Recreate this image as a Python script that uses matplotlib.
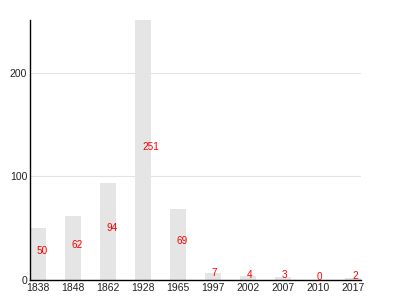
import matplotlib
matplotlib.use("Agg")
import matplotlib.pyplot as plt

categories = ["1838", "1848", "1862", "1928", "1965", "1997", "2002", "2007", "2010", "2017"]
values = [50, 62, 94, 251, 69, 7, 4, 3, 0, 2]
yticks = [0, 100, 200]

plt.rcParams['font.family'] = ['Liberation Sans', 'DejaVu Sans']

fig = plt.figure(figsize=(4, 3), dpi=100)
ax = fig.add_axes([0.075, 0.0667, 0.8275, 0.8667])

x = list(range(len(categories)))
w = 0.45
ax.bar(x, values, width=w, color='#e5e5e5', zorder=2)
ax.set_xlim(-w / 2, len(categories) - 1 + w / 2)
ax.set_ylim(0, max(values))

for xi, v in zip(x, values):
    ax.annotate(str(v), (xi, v / 2), xytext=(-1, 3), textcoords='offset pixels',
                ha='left', va='center', color='#ff0000', fontsize=7.2, zorder=3)

ax.set_xticks(x)
ax.set_xticklabels(categories)
ax.set_yticks(yticks)
ax.tick_params(axis='both', length=0, labelsize=7.5, pad=2, colors='#222222')
ax.yaxis.grid(True, color='#e3e3e3', linewidth=0.8, zorder=0)
ax.set_axisbelow(True)
for s in ['top', 'right']:
    ax.spines[s].set_visible(False)
for s in ['left', 'bottom']:
    ax.spines[s].set_color('black')
    ax.spines[s].set_linewidth(1)

fig.savefig('out.png', dpi=100)
